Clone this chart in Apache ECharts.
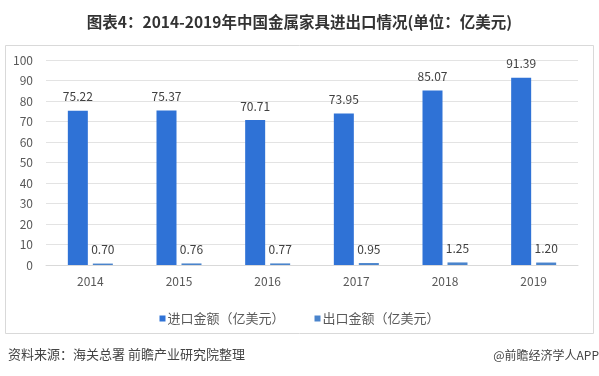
<!DOCTYPE html>
<html lang="zh">
<head>
    <meta charset="UTF-8">
    <title>中国金属家具进出口情况</title>
    <style type="text/css">
        html, body { margin: 0; padding: 0; background: #fff; }
        #chart { width: 599px; height: 376px; }
    </style>
</head>
<body>
<section id="chart"></section>
<script src="https://cdn.jsdelivr.net/npm/echarts@6/dist/echarts.min.js"></script>
<script type="text/javascript">
    // 数据
    var years = ['2014', '2015', '2016', '2017', '2018', '2019'];
    var importValues = [75.22, 75.37, 70.71, 73.95, 85.07, 91.39];
    var exportValues = [0.70, 0.76, 0.77, 0.95, 1.25, 1.20];
    var seriesNames = ['进口金额（亿美元）', '出口金额（亿美元）'];

    var fontFamily = '"Noto Sans CJK SC", "Microsoft YaHei", sans-serif';

    var chart = echarts.init(document.getElementById('chart'));

    var option = {
        backgroundColor: '#fff',
        animation: false,
        textStyle: { fontFamily: fontFamily },
        title: {
            text: '图表4：2014-2019年中国金属家具进出口情况(单位：亿美元)',
            left: 'center',
            top: 9,
            textStyle: { fontSize: 15.5, fontWeight: 'bold', color: '#333', fontFamily: fontFamily }
        },
        // 外框 + 底部来源
        graphic: [
            {
                type: 'rect',
                shape: { x: 5.5, y: 45.5, width: 588, height: 288 },
                style: { fill: 'none', stroke: '#d9d9d9', lineWidth: 1 },
                silent: true
            },
            {
                type: 'text',
                left: 8,
                top: 348,
                style: { text: '资料来源：海关总署 前瞻产业研究院整理', fill: '#444', fontSize: 13, fontFamily: fontFamily }
            },
            {
                type: 'text',
                right: 0,
                top: 349,
                style: { text: '@前瞻经济学人APP', fill: '#444', fontSize: 12, fontFamily: fontFamily }
            }
        ],
        legend: {
            data: seriesNames,
            top: 307,
            left: 'center',
            icon: 'rect',
            itemWidth: 6,
            itemHeight: 6,
            itemGap: 30,
            textStyle: { color: '#595959', fontSize: 13, padding: [0, 0, 0, -3] }
        },
        grid: { left: 46, right: 21, top: 60, bottom: 111 },
        xAxis: {
            type: 'category',
            data: years,
            axisTick: { show: false },
            axisLine: { lineStyle: { color: '#d9d9d9' } },
            axisLabel: { color: '#595959', fontSize: 12, margin: 10 }
        },
        yAxis: {
            type: 'value',
            min: 0,
            max: 100,
            interval: 10,
            axisLine: { show: false },
            axisTick: { show: false },
            axisLabel: { color: '#595959', fontSize: 12, margin: 13 },
            splitLine: { lineStyle: { color: '#e3e3e3' } }
        },
        series: [
            {
                name: seriesNames[0],
                type: 'bar',
                data: importValues,
                barWidth: 20,
                barGap: '25%',
                itemStyle: { color: '#2f72d6' },
                label: {
                    show: true,
                    position: 'top',
                    color: '#404040',
                    fontSize: 12,
                    distance: 8,
                    formatter: function (p) { return p.value.toFixed(2); }
                }
            },
            {
                name: seriesNames[1],
                type: 'bar',
                data: exportValues,
                barWidth: 20,
                itemStyle: { color: '#4a84cc' },
                label: {
                    show: true,
                    position: 'top',
                    color: '#404040',
                    fontSize: 12,
                    distance: 8,
                    formatter: function (p) { return p.value.toFixed(2); }
                }
            }
        ]
    };

    chart.setOption(option);
</script>
</body>
</html>
